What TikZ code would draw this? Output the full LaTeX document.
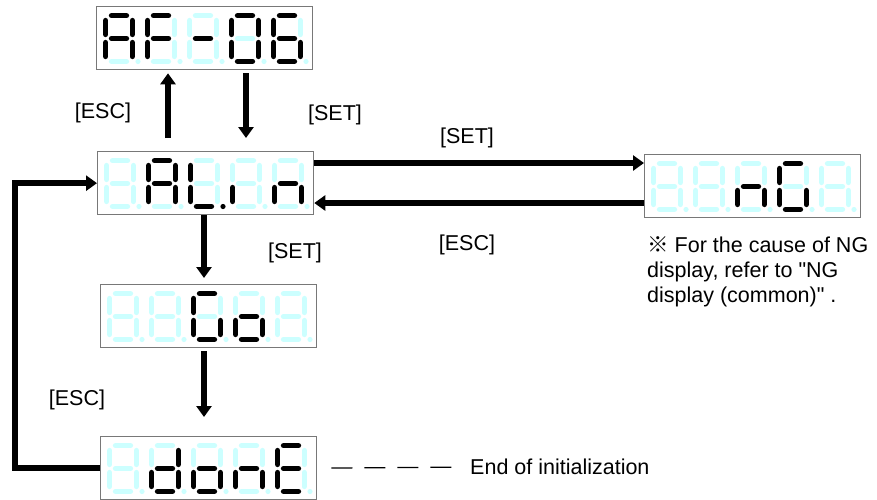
\documentclass[tikz,border=0pt]{standalone}
\usepackage{fontspec}
\setmainfont{Liberation Sans}[Ligatures=TeXOff]
\newfontfamily\cjk{Noto Sans CJK JP}
\usetikzlibrary{arrows.meta}
\definecolor{segoff}{RGB}{204,255,255}
\definecolor{frame}{RGB}{120,120,120}
\tikzset{
  disp/.style={draw=frame, line width=1.3pt, fill=white, minimum width=216pt, minimum height=63pt, inner sep=0pt, anchor=north west},
  seg/.style={line width=5.3pt, line cap=round},
  s0/.style={draw=segoff}, s1/.style={draw=black},
  d0/.style={fill=segoff}, d1/.style={fill=black},
  arr/.style={line width=5.5pt, line join=miter, -{Triangle[width=15pt,length=11pt]}},
  lbl/.style={font=\fontsize{21.5}{25}\selectfont, inner sep=0pt},
}
\def\dg(#1)#2#3#4#5#6#7#8#9{%
 \begin{scope}[shift={(#1)}]
  \draw[seg,s#2] (8.5,2.7)--(23.5,2.7);
  \draw[seg,s#3] (29.3,7.5)--(29.3,21.5);
  \draw[seg,s#4] (29.3,29.5)--(29.3,43.5);
  \draw[seg,s#5] (8.5,48.3)--(23.5,48.3);
  \draw[seg,s#6] (2.7,29.5)--(2.7,43.5);
  \draw[seg,s#7] (2.7,7.5)--(2.7,21.5);
  \draw[seg,s#8] (8.5,25.5)--(23.5,25.5);
  \fill[d#9] (35,48.5) circle (2.6pt);
 \end{scope}}
\begin{document}
\begin{tikzpicture}[x=1pt,y=-1pt]
\useasboundingbox (0,0) rectangle (877,499);
% displays
\node[disp] (af) at (96,6) {};
\node[disp] (alin) at (97,151) {};
\node[disp] (go) at (100,284) {};
\node[disp] (done) at (100,436) {};
\node[disp] (ng) at (644,154) {};
\begin{scope}[shift={(af.north west)}]
 \dg(7,7)11101110 \dg(49,7)10001110 \dg(91,7)00000010 \dg(133,7)11111100 \dg(175,7)10111110
\end{scope}
\begin{scope}[shift={(alin.north west)}]
 \dg(7,7)00000000 \dg(49,7)11101110 \dg(91,7)00011101 \dg(133,7)00001000 \dg(175,7)00101010
\end{scope}
\begin{scope}[shift={(go.north west)}]
 \dg(7,7)00000000 \dg(49,7)00000000 \dg(91,7)10111100 \dg(133,7)00111010 \dg(175,7)00000000
\end{scope}
\begin{scope}[shift={(done.north west)}]
 \dg(7,7)00000000 \dg(49,7)01111010 \dg(91,7)00111010 \dg(133,7)00101010 \dg(175,7)10011110
\end{scope}
\begin{scope}[shift={(ng.north west)}]
 \dg(7,7)00000000 \dg(49,7)00000000 \dg(91,7)00101010 \dg(133,7)10111100 \dg(175,7)00000000
\end{scope}
% labels
\node[lbl] (l1) at (103,113) {[ESC]};
\node[lbl] (l2) at (335,115) {[SET]};
\node[lbl] (l3) at (467,138) {[SET]};
\node[lbl] (l4) at (467,245) {[ESC]};
\node[lbl] (l5) at (295,253) {[SET]};
\node[lbl] (l6) at (77,400) {[ESC]};
\node[lbl,anchor=west] (endt) at (470,467) {End of initialization};
\node[lbl,anchor=west,align=left] (note) at (647,272) {{\cjk ※} For the cause of NG\\display, refer to "NG\\display (common)" .};
% connectors
\coordinate (xu) at (168,0);
\coordinate (xd) at (246,0);
\coordinate (xv) at (204,0);
\coordinate (yh1) at (0,163);
\coordinate (yh2) at (0,203);
\coordinate (xl) at (15,0);
\draw[arr,shorten <=13pt,shorten >=3pt] (alin.north -| xu) -- (af.south -| xu);
\draw[arr,shorten <=3pt,shorten >=13pt] (af.south -| xd) -- (alin.north -| xd);
\draw[arr] (alin.east |- yh1) -- (ng.west |- yh1);
\draw[arr] (ng.west |- yh2) -- (alin.east |- yh2);
\draw[arr,shorten >=6pt] (alin.south -| xv) -- (go.north -| xv);
\draw[arr,shorten <=3pt,shorten >=19pt] (go.south -| xv) -- (done.north -| xv);
\draw[arr] (done.west) -- (done.west -| xl) |- (alin.west);
\draw[line width=1.3pt, dash pattern=on 21pt off 12pt, shorten <=14pt, shorten >=16pt] (done.east) -- (endt.west);
\end{tikzpicture}
\end{document}
